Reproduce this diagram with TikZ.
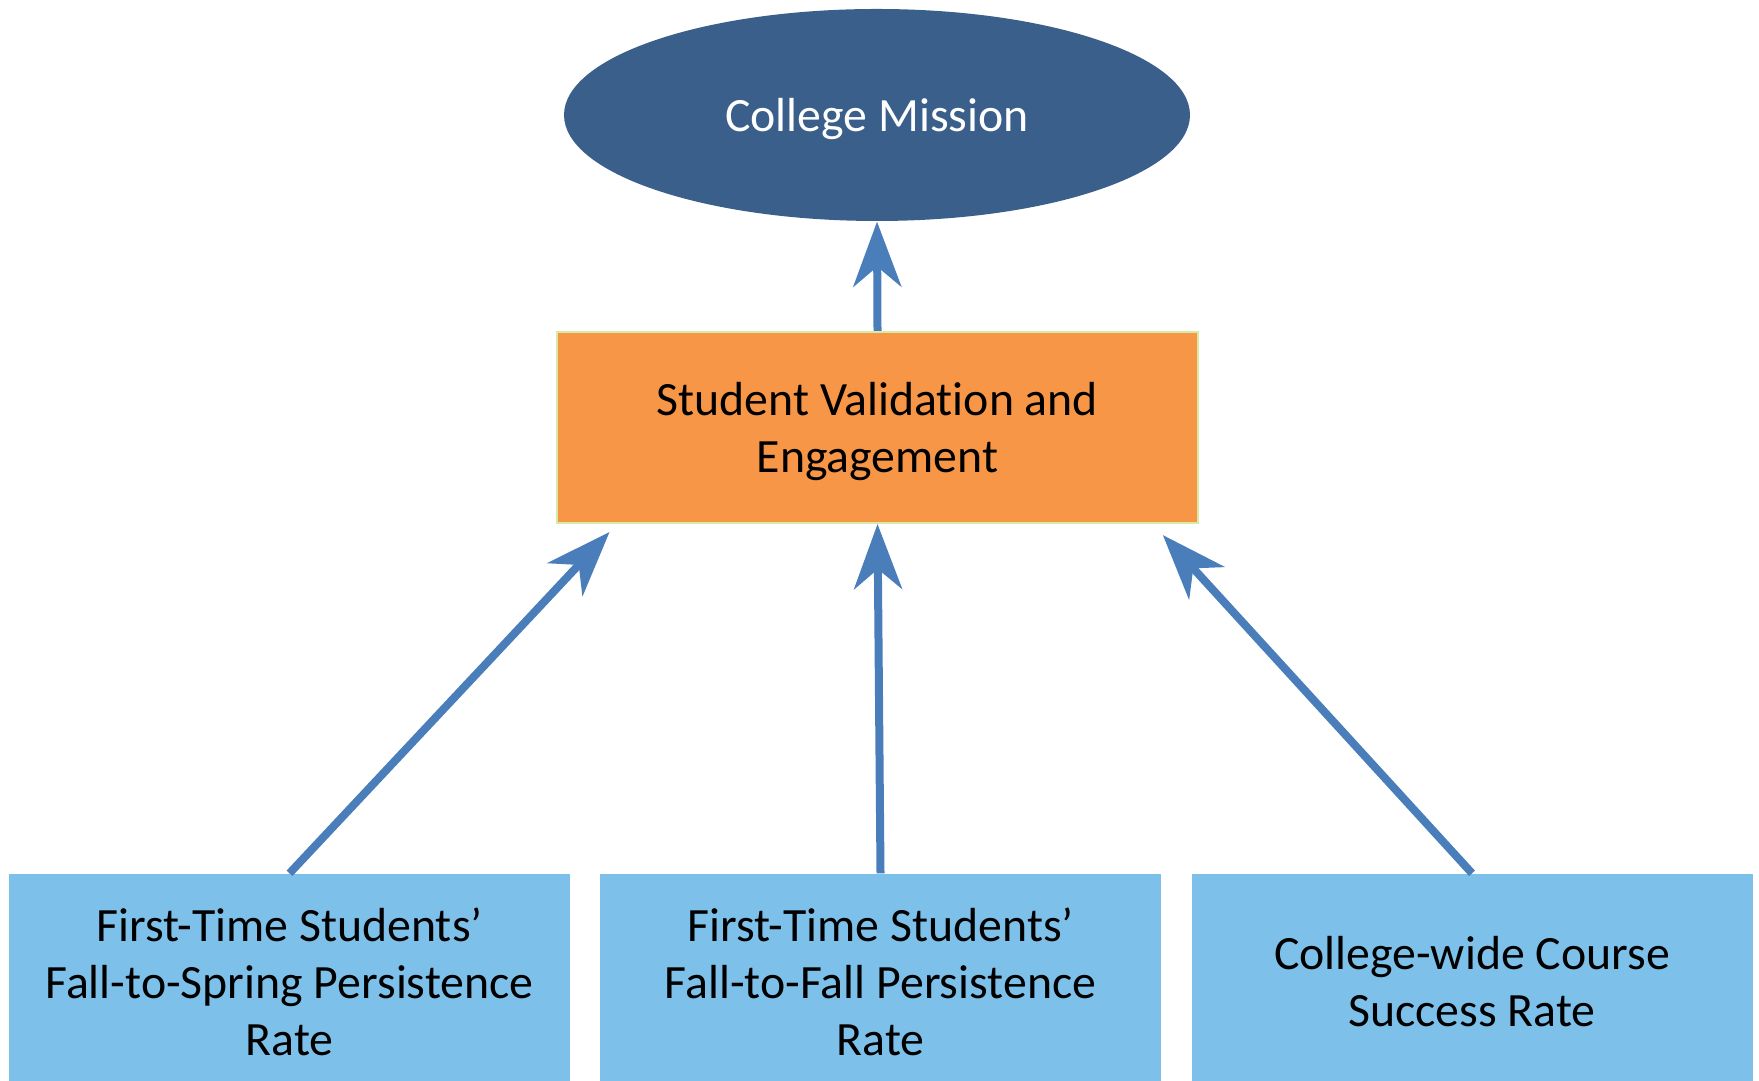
\documentclass[tikz,border=0pt]{standalone}
\usepackage{fontspec}
\setmainfont{Carlito}[Ligatures={NoCommon,NoContextual,NoRare}]
\usetikzlibrary{shapes.geometric,arrows.meta,calc}

\definecolor{missionblue}{HTML}{3A5F8A}
\definecolor{valorange}{HTML}{F79646}
\definecolor{valborder}{HTML}{D7EBA4}
\definecolor{ratebox}{HTML}{7DC1EA}
\definecolor{arrowblue}{HTML}{4A7EBB}

\begin{document}
\begin{tikzpicture}[
  txt/.style={font=\fontsize{13.6}{16.2}\selectfont, align=center},
  mission/.style={ellipse, fill=missionblue, text=white, minimum width=6.26cm, minimum height=2.12cm, inner sep=0pt, text depth=0pt, txt},
  engage/.style={rectangle, fill=valorange, draw=valborder, line width=0.6pt, minimum width=6.41cm, minimum height=1.91cm, text depth=0pt, txt},
  rate/.style={rectangle, fill=ratebox, minimum width=5.61cm, minimum height=2.16cm, txt},
  up/.style={draw=arrowblue, line width=0.08cm, -{Stealth[length=6.5mm, width=4.8mm, inset=2mm]}}
]
\useasboundingbox (0,0) rectangle (17.59,10.80);
\clip (0,0) rectangle (17.59,10.80);

% top and middle
\node[mission] (mission) at (8.77,9.65) {College Mission};
\node[engage] (svc) at (8.775,6.525) {Student Validation and\\Engagement};

% measures
\node[rate] (fsp) at (2.895,0.98) {First-Time Students’\\Fall-to-Spring Persistence\\Rate};
\node[rate] (ffp) at (8.805,0.98) {First-Time Students’\\Fall-to-Fall Persistence\\Rate};
\node[rate] (cws) at (14.72,0.98) {College-wide Course\\Success Rate};

% arrows
\draw[up] (svc.north) -- (mission.south);
\draw[up, shorten >=0.11cm] (fsp.north) -- ($(svc.south west)!0.095!(svc.south east)$);
\draw[up] (ffp.north) -- (svc.south);
\draw[up, shorten >=0.15cm] (cws.north) -- ($(svc.south west)!0.928!(svc.south east)$);
\end{tikzpicture}
\end{document}
